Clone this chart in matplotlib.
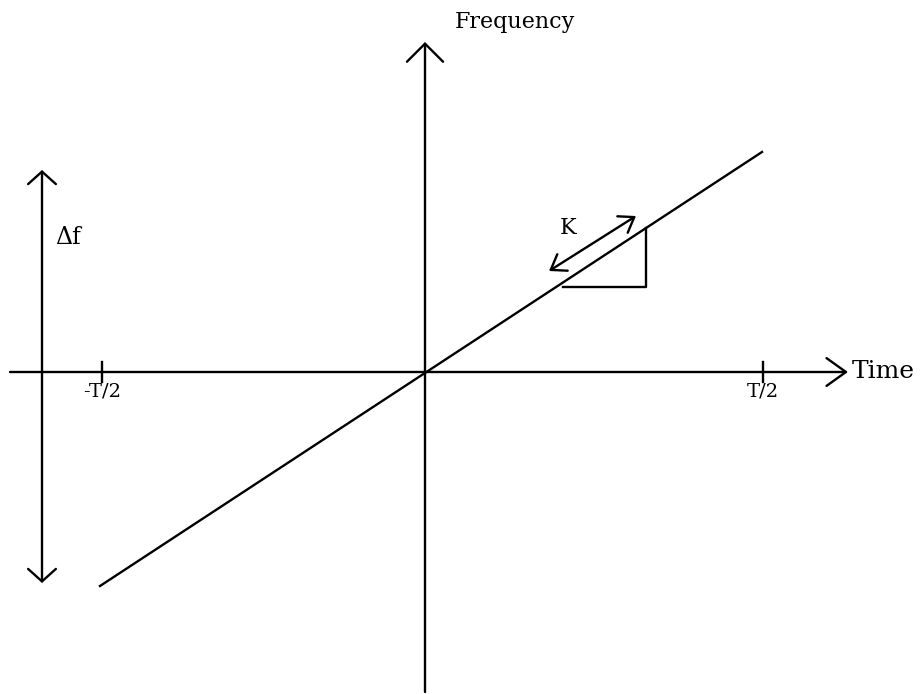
import matplotlib.pyplot as plt

# axis extents (origin at the crossing of the axes)
time_axis = [-415, 423]
freq_axis = [-320, 330]

# linear frequency sweep across the pulse
sweep_t = [-325, 337]
sweep_f = [-214, 220]

# pulse edges on the time axis
tick_pos = [-323, 338]
tick_labels = ['-T/2', 'T/2']

# bandwidth marker
df_x = -383
df_span = [-211, 202]

# slope triangle and K arrow
tri_t = [138, 221, 221]
tri_f = [85, 85, 144]
k_start = (124, 101)
k_end = (211, 156)

fig = plt.figure(figsize=(9.24, 6.94), dpi=100)
ax = fig.add_axes([0, 0, 1, 1])
ax.set_xlim(-425, 499)
ax.set_ylim(-322, 372)
ax.axis('off')

lw = 1.7
font = 'DejaVu Serif'

# axes with open arrow heads
ax.annotate('', xy=(time_axis[1], 0), xytext=(time_axis[0], 0),
            arrowprops=dict(arrowstyle='->,head_length=0.7,head_width=0.5',
                            mutation_scale=20, lw=lw, color='black',
                            shrinkA=0, shrinkB=0))
ax.annotate('', xy=(0, freq_axis[1]), xytext=(0, freq_axis[0]),
            arrowprops=dict(arrowstyle='->,head_length=0.65,head_width=0.65',
                            mutation_scale=20, lw=lw, color='black',
                            shrinkA=0, shrinkB=0))

# the sweep line
ax.plot(sweep_t, sweep_f, color='black', lw=lw)

# ticks at +/- T/2
for x, lab in zip(tick_pos, tick_labels):
    ax.plot([x, x], [-10, 10], color='black', lw=lw)
    ax.text(x, -11, lab, ha='center', va='top', fontsize=14, family=font)

# delta f double arrow
ax.annotate('', xy=(df_x, df_span[1]), xytext=(df_x, df_span[0]),
            arrowprops=dict(arrowstyle='<->,head_length=0.45,head_width=0.5',
                            mutation_scale=20, lw=lw, color='black',
                            shrinkA=0, shrinkB=0))
ax.text(df_x + 13, 134, '\u0394f', ha='left', va='center', fontsize=17, family=font)

# slope triangle
ax.plot(tri_t, tri_f, color='black', lw=lw)

# K arrow parallel to the sweep
ax.annotate('', xy=k_end, xytext=k_start,
            arrowprops=dict(arrowstyle='<->,head_length=0.5,head_width=0.35',
                            mutation_scale=20, lw=lw, color='black',
                            shrinkA=0, shrinkB=0))
ax.text(143, 144, 'K', ha='center', va='center', fontsize=16, family=font)

# axis labels
ax.text(30, 350, 'Frequency', ha='left', va='center', fontsize=16, family=font)
ax.text(427, 0, 'Time', ha='left', va='center', fontsize=18, family=font)

fig.savefig('out.png', dpi=100)
